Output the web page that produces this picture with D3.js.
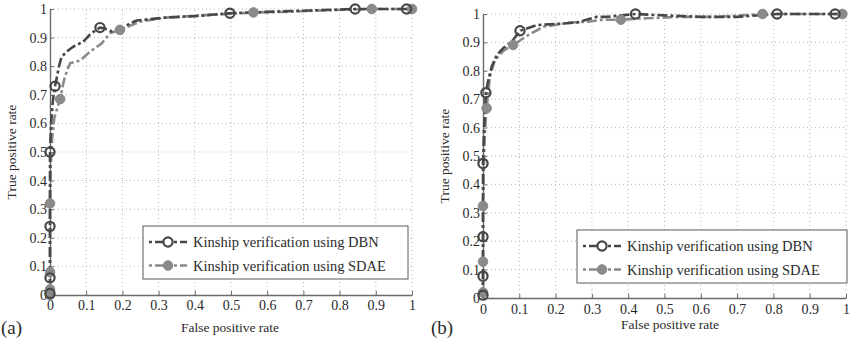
<!DOCTYPE html>
<html>
<head>
<meta charset="utf-8">
<script src="https://cdn.jsdelivr.net/npm/d3@7"></script>
<style>
  html, body { margin: 0; padding: 0; background: #fff; }
  svg { display: block; }
  svg text { font-family: "Liberation Serif", "Times New Roman", "DejaVu Serif", serif; fill: #2a2a2a; }
</style>
</head>
<body>
<svg id="chart" width="850" height="346"></svg>
<script>
// Axis ticks shared by both panels
const axisTicks = [0, 0.1, 0.2, 0.3, 0.4, 0.5, 0.6, 0.7, 0.8, 0.9, 1];
const tickLabels = ["0", "0.1", "0.2", "0.3", "0.4", "0.5", "0.6", "0.7", "0.8", "0.9", "1"];
const seriesNames = ["Kinship verification using DBN", "Kinship verification using SDAE"];

// Panel (a): ROC curves as [false positive rate, true positive rate]
const rocA_dbn = [[0,0],[0,0.005],[0,0.06],[0,0.24],[0,0.5],[0.003,0.6],[0.008,0.68],[0.014,0.73],[0.025,0.8],[0.032,0.833],[0.05,0.855],[0.064,0.868],[0.092,0.886],[0.11,0.91],[0.125,0.925],[0.138,0.935],[0.155,0.93],[0.17,0.922],[0.198,0.927],[0.22,0.95],[0.24,0.96],[0.32,0.97],[0.4,0.975],[0.497,0.985],[0.6,0.99],[0.72,0.995],[0.843,1],[0.985,1],[1,1]];
const markA_dbn = [[0,0.005],[0,0.06],[0,0.24],[0,0.5],[0.014,0.73],[0.138,0.935],[0.497,0.985],[0.843,1],[0.985,1]];
const rocA_sdae = [[0,0],[0,0.02],[0,0.08],[0,0.32],[0.002,0.45],[0.006,0.55],[0.012,0.62],[0.028,0.685],[0.035,0.73],[0.041,0.763],[0.055,0.81],[0.083,0.82],[0.11,0.85],[0.143,0.88],[0.166,0.915],[0.193,0.927],[0.25,0.956],[0.32,0.97],[0.45,0.98],[0.562,0.988],[0.65,0.99],[0.75,0.995],[0.889,1],[1,1]];
const markA_sdae = [[0,0],[0,0.02],[0,0.08],[0,0.32],[0.028,0.685],[0.193,0.927],[0.562,0.988],[0.889,1],[1,1]];

// Panel (b)
const rocB_dbn = [[0,0],[0,0.01],[0,0.077],[0,0.216],[0,0.474],[0.003,0.6],[0.008,0.723],[0.015,0.77],[0.024,0.815],[0.038,0.856],[0.056,0.88],[0.079,0.902],[0.102,0.941],[0.148,0.961],[0.203,0.965],[0.26,0.97],[0.313,0.99],[0.34,0.99],[0.42,1],[0.5,0.995],[0.6,0.99],[0.7,0.99],[0.81,1],[0.97,1],[1,1]];
const markB_dbn = [[0,0.01],[0,0.077],[0,0.216],[0,0.474],[0.008,0.723],[0.102,0.941],[0.42,1],[0.81,1],[0.97,1]];
const rocB_sdae = [[0,0],[0,0.02],[0,0.128],[0,0.324],[0.003,0.5],[0.006,0.6],[0.01,0.668],[0.019,0.78],[0.033,0.838],[0.056,0.87],[0.083,0.891],[0.125,0.926],[0.166,0.955],[0.24,0.97],[0.29,0.973],[0.33,0.98],[0.38,0.98],[0.45,0.985],[0.55,0.99],[0.65,0.99],[0.77,1],[0.99,1],[1,1]];
const markB_sdae = [[0,0.02],[0,0.128],[0,0.324],[0.01,0.668],[0.083,0.891],[0.38,0.98],[0.77,1],[0.99,1]];

const svg = d3.select("#chart");
const SERIF = "'Liberation Serif', 'Times New Roman', 'DejaVu Serif', serif";

const style = {
  dbn:  { color: "#474747", dash: "10,3,3,3", width: 2.6 },
  sdae: { color: "#8a8a8a", dash: "10,3,3,3", width: 2.6 }
};

function drawPanel(cfg) {
  const x = d3.scaleLinear().domain([0, 1]).range([cfg.x0, cfg.x1]);
  const y = d3.scaleLinear().domain([0, 1]).range([cfg.y0, cfg.y1]);
  const g = svg.append("g");

  // dotted grid
  g.append("g").selectAll("line").data(axisTicks.slice(1)).join("line")
    .attr("x1", d => x(d)).attr("x2", d => x(d))
    .attr("y1", y(0)).attr("y2", y(1))
    .attr("stroke", "#b4b4b4").attr("stroke-width", 1).attr("stroke-dasharray", "1,3");
  g.append("g").selectAll("line").data(axisTicks.slice(1)).join("line")
    .attr("y1", d => y(d)).attr("y2", d => y(d))
    .attr("x1", x(0)).attr("x2", x(1))
    .attr("stroke", "#b4b4b4").attr("stroke-width", 1).attr("stroke-dasharray", "1,3");

  // axes
  const xAxis = d3.axisBottom(x).tickValues(axisTicks).tickFormat((d, i) => tickLabels[i])
    .tickSizeInner(-4).tickSizeOuter(0).tickPadding(cfg.xPad);
  const yAxis = d3.axisLeft(y).tickValues(axisTicks).tickFormat((d, i) => tickLabels[i])
    .tickSizeInner(-4).tickSizeOuter(0).tickPadding(3);
  const gx = g.append("g").attr("transform", `translate(0,${cfg.y0})`).call(xAxis);
  const gy = g.append("g").attr("transform", `translate(${cfg.x0},0)`).call(yAxis);
  [gx, gy].forEach(a => {
    a.attr("font-family", SERIF).attr("font-size", 14);
    a.select(".domain").attr("stroke", "#6a6a6a").attr("stroke-width", 1.4);
    a.selectAll(".tick line").attr("stroke", "#6a6a6a");
    a.selectAll(".tick text").attr("fill", "#2a2a2a");
  });

  // curves
  const line = d3.line().x(d => x(d[0])).y(d => y(d[1]));
  const series = [
    { roc: cfg.dbn, marks: cfg.dbnMarks, s: style.dbn, open: true },
    { roc: cfg.sdae, marks: cfg.sdaeMarks, s: style.sdae, open: false }
  ];
  // SDAE underneath, DBN on top
  [series[1], series[0]].forEach(sr => {
    g.append("path").datum(sr.roc).attr("d", line)
      .attr("fill", "none").attr("stroke", sr.s.color)
      .attr("stroke-width", sr.s.width).attr("stroke-dasharray", sr.s.dash)
      .attr("stroke-linejoin", "round");
  });
  [series[1], series[0]].forEach(sr => {
    g.append("g").selectAll("circle").data(sr.marks).join("circle")
      .attr("cx", d => x(d[0])).attr("cy", d => y(d[1]))
      .attr("r", sr.open ? 4.6 : 4.8)
      .attr("fill", sr.open ? "none" : sr.s.color)
      .attr("stroke", sr.s.color).attr("stroke-width", sr.open ? 2.2 : 1);
  });

  // legend
  const lg = g.append("g");
  lg.append("rect").attr("x", cfg.legX).attr("y", cfg.legY)
    .attr("width", cfg.legW).attr("height", cfg.legH)
    .attr("fill", "#fff").attr("stroke", "#5a5a5a").attr("stroke-width", 1);
  series.forEach((sr, i) => {
    const ry = cfg.legY + 16 + i * 23.5;
    const lx = cfg.legX + 6;
    lg.append("line").attr("x1", lx).attr("x2", lx + 38).attr("y1", ry).attr("y2", ry)
      .attr("stroke", sr.s.color).attr("stroke-width", sr.s.width)
      .attr("stroke-dasharray", "3,3,10,3,3,3");
    lg.append("circle").attr("cx", lx + 19).attr("cy", ry).attr("r", sr.open ? 4.6 : 4.8)
      .attr("fill", sr.open ? "#fff" : sr.s.color)
      .attr("stroke", sr.s.color).attr("stroke-width", sr.open ? 2.2 : 1);
    lg.append("text").attr("x", lx + 44).attr("y", ry).attr("dy", "0.35em")
      .attr("font-family", SERIF).attr("font-size", 14.5).text(seriesNames[i]);
  });

  // axis titles and panel tag
  g.append("text").attr("x", cfg.xTitleX).attr("y", cfg.xTitleY)
    .attr("text-anchor", "middle").attr("font-family", SERIF).attr("font-size", 13.5)
    .text("False positive rate");
  g.append("text").attr("transform", `translate(${cfg.yTitleX},${(cfg.y0 + cfg.y1) / 2}) rotate(-90)`)
    .attr("text-anchor", "middle").attr("font-family", SERIF).attr("font-size", 13.5)
    .text("True positive rate");
  g.append("text").attr("x", cfg.tagX).attr("y", 334)
    .attr("font-family", SERIF).attr("font-size", 19).text(cfg.tag);
}

drawPanel({
  x0: 50, x1: 412, y0: 295, y1: 9, xPad: 5,
  dbn: rocA_dbn, dbnMarks: markA_dbn, sdae: rocA_sdae, sdaeMarks: markA_sdae,
  legX: 143, legY: 226, legW: 265, legH: 53,
  xTitleX: 230, xTitleY: 332, yTitleX: 16, tagX: 1, tag: "(a)"
});

drawPanel({
  x0: 483, x1: 846, y0: 298, y1: 14, xPad: 6,
  dbn: rocB_dbn, dbnMarks: markB_dbn, sdae: rocB_sdae, sdaeMarks: markB_sdae,
  legX: 577, legY: 230, legW: 270, legH: 53,
  xTitleX: 670, xTitleY: 329, yTitleX: 449, tagX: 431, tag: "(b)"
});
</script>
</body>
</html>
